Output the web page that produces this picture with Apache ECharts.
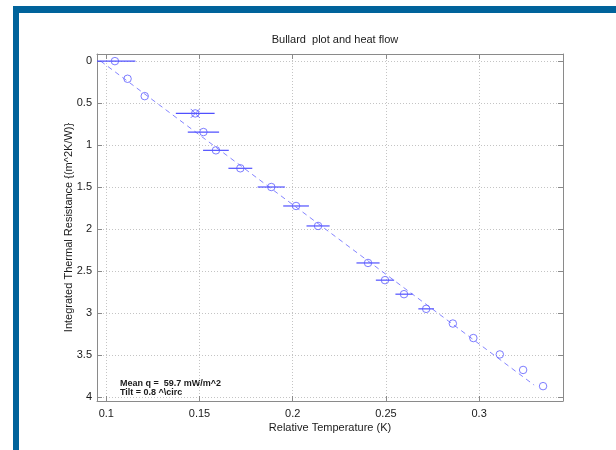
<!DOCTYPE html>
<html><head><meta charset="utf-8">
<script src="https://cdn.jsdelivr.net/npm/echarts@6/dist/echarts.min.js"></script>
<style>html,body{margin:0;padding:0;background:#fff}#c{width:616px;height:450px}</style>
</head><body><div id="c"></div>
<script>
const temperature = [0.1046,0.1114,0.1206,0.1477,0.1521,0.1588,0.1719,0.1885,0.2018,0.2136,0.2404,0.2495,0.2597,0.2716,0.2859,0.2969,0.3111,0.3236,0.3343];
const resistance = [0,0.21,0.417,0.623,0.845,1.063,1.277,1.5,1.726,1.964,2.405,2.61,2.777,2.952,3.127,3.30,3.495,3.68,3.873];
const tempError = [0.011,0,0,0.0104,0.0084,0.0069,0.0064,0.0073,0.0069,0.0062,0.0062,0.0049,0.0046,0.0042,0,0,0,0,0];
const fitTemp = [0.097,0.3295];
const fitRes = [0,3.86];
const flaggedIdx = [3];
const xTicks = [0.1,0.15,0.2,0.25,0.3];
const yTicks = [0,0.5,1,1.5,2,2.5,3,3.5,4];
const titleText = 'Bullard  plot and heat flow';
const xName = 'Relative Temperature (K)';
const yName = 'Integrated Thermal Resistance {(m^2K/W)}';
const noteLines = ['Mean q =  59.7 mW/m^2', 'Tilt = 0.8 ^\\circ'];

const X_MIN = 0.095, X_MAX = 0.345, Y_MIN = -0.085, Y_MAX = 4.05;
const axisCol = '#8a8a8a', gridCol = '#c4c4c4', txtCol = '#1a1a1a';
const blue = '#5c5cff';
const font = 'Liberation Sans, Arial, sans-serif';

function axisBase(ticks, showLabel, showSplit) {
  return {
    type: 'value',
    nameMoveOverlap: false,
    axisLine: { show: true, onZero: false, lineStyle: { color: axisCol, width: 1 } },
    axisTick: { show: true, inside: true, length: 5, customValues: ticks, lineStyle: { color: axisCol } },
    axisLabel: { show: showLabel, customValues: ticks, color: txtCol, fontSize: 11, fontFamily: font },
    splitLine: { show: showSplit, lineStyle: { color: gridCol, type: [1, 2], width: 1 } }
  };
}

const chart = echarts.init(document.getElementById('c'), null, { renderer: 'canvas' });
const xb = axisBase(xTicks, true, true);
const xt = axisBase(xTicks, false, false);
const yl = axisBase(yTicks, true, true);
const yr = axisBase(yTicks, false, false);
Object.assign(xb, { min: X_MIN, max: X_MAX, position: 'bottom', name: xName, nameLocation: 'middle', nameGap: 21,
  nameTextStyle: { color: txtCol, fontSize: 11, fontFamily: font } });
xb.axisLabel.margin = 7;
Object.assign(xt, { min: X_MIN, max: X_MAX, position: 'top' });
Object.assign(yl, { min: Y_MIN, max: Y_MAX, inverse: true, position: 'left', name: yName, nameLocation: 'middle', nameGap: 23,
  nameTextStyle: { color: txtCol, fontSize: 11, fontFamily: font } });
yl.axisLabel.margin = 5;
Object.assign(yr, { min: Y_MIN, max: Y_MAX, inverse: true, position: 'right' });

const pts = temperature.map((t, i) => [t, resistance[i], tempError[i]]);
const flagged = flaggedIdx.map(i => [temperature[i], resistance[i]]);
const fitData = fitTemp.map((t, i) => [t, fitRes[i]]);

chart.setOption({
  animation: false,
  backgroundColor: '#ffffff',
  title: { text: titleText, left: 330, top: 29, textAlign: 'center',
    textStyle: { fontSize: 11, fontWeight: 'normal', color: txtCol, fontFamily: font } },
  grid: { left: 97, top: 54, right: 53, bottom: 49, containLabel: false },
  xAxis: [xb, xt],
  yAxis: [yl, yr],
  series: [
    { type: 'line', data: fitData, showSymbol: false, silent: true,
      lineStyle: { color: '#8585ff', width: 1, type: [5, 4] }, z: 2 },
    { type: 'custom', data: pts, clip: true, z: 3,
      renderItem: function (params, api) {
        const x = api.value(0), y = api.value(1), e = api.value(2);
        if (!e) return null;
        const p1 = api.coord([x - e, y]), p2 = api.coord([x + e, y]);
        return { type: 'line', shape: { x1: p1[0], y1: p1[1], x2: p2[0], y2: p2[1] },
          style: { stroke: '#5050ff', lineWidth: 1.2 } };
      } },
    { type: 'scatter', data: pts.map(p => [p[0], p[1]]), symbol: 'circle', symbolSize: 7.5, z: 4,
      itemStyle: { color: 'rgba(0,0,0,0)', borderColor: blue, borderWidth: 1 } },
    { type: 'scatter', data: flagged, symbol: 'path://M0,0L10,10M10,0L0,10', symbolSize: 9, z: 4,
      itemStyle: { color: 'rgba(0,0,0,0)', borderColor: blue, borderWidth: 1 } }
  ],
  graphic: [
    { type: 'rect', shape: { x: 13, y: 6, width: 603, height: 7 }, style: { fill: '#00639b' }, silent: true },
    { type: 'rect', shape: { x: 13, y: 6, width: 6, height: 444 }, style: { fill: '#00639b' }, silent: true },
    { type: 'text', x: 120, y: 384, style: { text: noteLines[0], fill: txtCol, font: 'bold 9px Liberation Sans, Arial, sans-serif', textVerticalAlign: 'middle' }, silent: true },
    { type: 'text', x: 120, y: 393, style: { text: noteLines[1], fill: txtCol, font: 'bold 9px Liberation Sans, Arial, sans-serif', textVerticalAlign: 'middle' }, silent: true }
  ]
});
</script></body></html>
